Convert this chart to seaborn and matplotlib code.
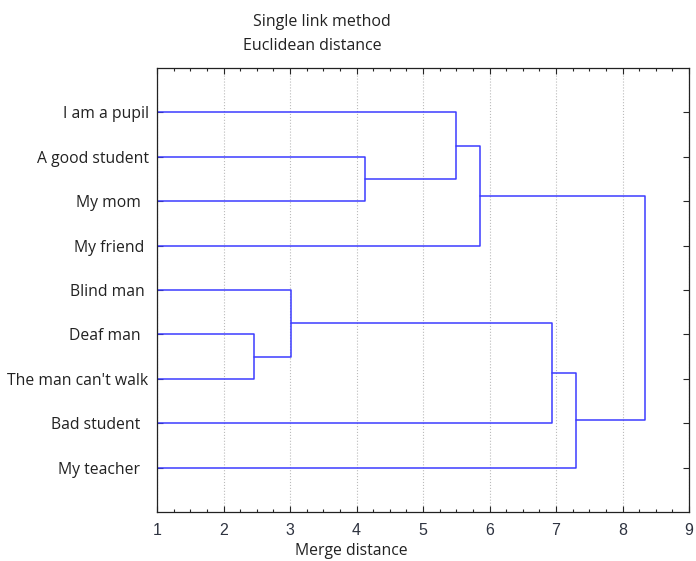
import numpy as np
import pandas as pd
import matplotlib.pyplot as plt
import seaborn as sns
from matplotlib.ticker import MultipleLocator

sns.set_style("white")
plt.rcParams["font.family"] = ["Open Sans", "DejaVu Sans"]

# leaves, top to bottom (trailing spaces as in the original labels)
leaves = ["I am a pupil", "A good student", "My mom  ", "My friend ", "Blind man ",
          "Deaf man  ", "The man can't walk", "Bad student  ", "My teacher  "]

# single-link merges in order; children < 9 are leaves, new clusters get ids 9..16
merge_left = [5, 4, 1, 0, 12, 10, 14, 13]
merge_right = [6, 9, 2, 11, 3, 7, 8, 15]
merge_dist = [2.46, 3.01, 4.13, 5.49, 5.86, 6.94, 7.30, 8.34]

# build dendrogram link paths
pos = {i: (i + 1.0, 1.0) for i in range(len(leaves))}  # (y position, height)
rows = []
for k, (a, b, d) in enumerate(zip(merge_left, merge_right, merge_dist)):
    ya, ha = pos[a]
    yb, hb = pos[b]
    for x, y in [(ha, ya), (d, ya), (d, yb), (hb, yb)]:
        rows.append({"link": k, "x": x, "y": y})
    pos[len(leaves) + k] = ((ya + yb) / 2, d)
links = pd.DataFrame(rows)

fig = plt.figure(figsize=(6.96, 5.61), dpi=100)
ax = fig.add_axes([157 / 696, 1 - 512 / 561, 532 / 696, 444 / 561])

sns.lineplot(data=links, x="x", y="y", units="link", estimator=None, sort=False,
             color="#3c3cff", linewidth=1.1, ax=ax)

ax.set_xlim(1, 9)
ax.set_ylim(10, 0)
ax.xaxis.set_major_locator(MultipleLocator(1))
ax.xaxis.set_minor_locator(MultipleLocator(0.25))
ax.set_yticks(np.arange(1, len(leaves) + 1))
ax.set_yticklabels(leaves)
ax.tick_params(axis="x", which="major", direction="in", length=4, width=0.8,
               top=True, bottom=True, labelsize=11.5, pad=8, labelcolor="#2e3340")
ax.tick_params(axis="x", which="minor", direction="in", length=2, width=0.8, top=True, bottom=True)
ax.tick_params(axis="y", direction="in", length=4, width=0.8, left=True, right=True,
               labelsize=11.3, pad=6, labelcolor="#222222")
for lab in ax.get_xticklabels():
    lab.set_family(["Liberation Sans", "DejaVu Sans"])

ax.grid(axis="x", color="#bbbbbb", linestyle=":", linewidth=0.8)
for s in ax.spines.values():
    s.set_color("#222222")
    s.set_linewidth(0.9)

ax.set_xlabel("")
ax.set_ylabel("")
fig.text(351 / 696, 1 - 551 / 561, "Merge distance", ha="center", va="center",
         fontsize=11.3, color="#222222")

fig.text(322 / 696, 1 - 22 / 561, "Single link method", ha="center", va="center",
         fontsize=11.5, color="#222222")
fig.text(312 / 696, 1 - 46 / 561, "Euclidean distance", ha="center", va="center",
         fontsize=11.5, color="#222222")

fig.savefig("out.png", dpi=100)
